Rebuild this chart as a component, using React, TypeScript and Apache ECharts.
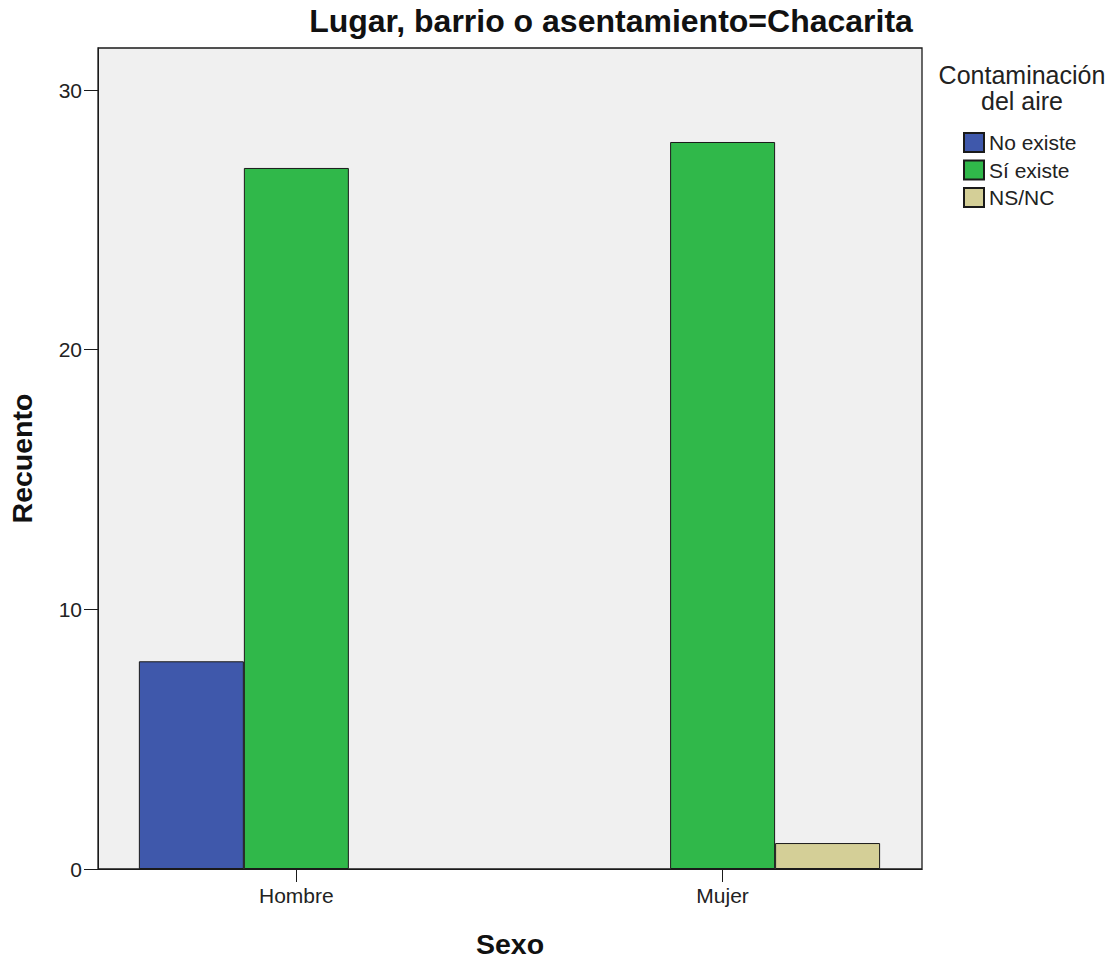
import React, { useEffect, useRef } from "react";
import * as echarts from "echarts";

const titleText = "Lugar, barrio o asentamiento=Chacarita";
const legendTitle = "Contaminación\ndel aire";
const categories = ["Hombre", "Mujer"];
const seriesNames = ["No existe", "Sí existe", "NS/NC"];
const noExiste: (number | null)[] = [8, null];
const siExiste: (number | null)[] = [27, 28];
const nsnc: (number | null)[] = [null, 1];
const seriesColors = ["#3f58ab", "#30b84a", "#d4cf97"];
const yTicks = [0, 10, 20, 30];
const yMax = 31.62;
const xMin = -0.4654;
const xMax = 1.4678;

const FONT = "'Liberation Sans', Arial, sans-serif";

function toPairs(vals: (number | null)[]) {
  const out: number[][] = [];
  vals.forEach((v, i) => {
    if (v !== null) out.push([i, v]);
  });
  return out;
}

export default function App() {
  const ref = useRef<HTMLDivElement>(null);
  useEffect(() => {
    if (!ref.current) return;
    const chart = echarts.init(ref.current, undefined, { renderer: "svg" });
    const values = [noExiste, siExiste, nsnc];
    chart.setOption({
      animation: false,
      backgroundColor: "#ffffff",
      textStyle: { fontFamily: FONT },
      grid: {
        left: 98,
        top: 48,
        width: 824,
        height: 821,
        show: true,
        backgroundColor: "#f0f0f0",
        borderColor: "#1a1a1a",
        borderWidth: 1.3,
        containLabel: false,
        outerBoundsMode: "none",
      },
      graphic: [
        {
          type: "text",
          style: {
            x: 611,
            y: 5,
            text: titleText,
            textAlign: "center",
            textVerticalAlign: "top",
            font: `bold 32px ${FONT}`,
            fill: "#111",
          },
        },
        {
          type: "text",
          style: {
            x: 1022,
            y: 62,
            text: legendTitle,
            textAlign: "center",
            textVerticalAlign: "top",
            font: `25px ${FONT}`,
            lineHeight: 26,
            fill: "#222",
          },
        },
      ],
      legend: {
        orient: "vertical",
        left: 963,
        top: 132,
        itemWidth: 20,
        itemHeight: 19,
        itemGap: 6.5,
        icon: "rect",
        padding: 0,
        data: seriesNames,
        textStyle: { fontSize: 21, color: "#222", fontFamily: FONT },
      },
      xAxis: {
        type: "value",
        min: xMin,
        max: xMax,
        name: "Sexo",
        nameLocation: "middle",
        nameGap: 60,
        nameTextStyle: { fontSize: 28.5, fontWeight: "bold", color: "#111", fontFamily: FONT },
        axisLine: { show: true, onZero: false, lineStyle: { color: "#1a1a1a" } },
        axisTick: { show: true, length: 13, lineStyle: { color: "#1a1a1a" }, customValues: [0, 1] },
        axisLabel: {
          customValues: [0, 1],
          formatter: (v: number) => categories[Math.round(v)] ?? "",
          fontSize: 21,
          color: "#222",
          margin: 16,
          fontFamily: FONT,
        },
        splitLine: { show: false },
      },
      yAxis: {
        type: "value",
        min: 0,
        max: yMax,
        name: "Recuento",
        nameLocation: "middle",
        nameRotate: 90,
        nameGap: 62,
        nameTextStyle: { fontSize: 28.5, fontWeight: "bold", color: "#111", fontFamily: FONT },
        axisLine: { show: true, onZero: false, lineStyle: { color: "#1a1a1a" } },
        axisTick: { show: true, length: 14, lineStyle: { color: "#1a1a1a" }, customValues: yTicks },
        axisLabel: {
          customValues: yTicks,
          fontSize: 21,
          color: "#222",
          margin: 16,
          fontFamily: FONT,
        },
        splitLine: { show: false },
      },
      series: seriesNames.map((name, i) => ({
        name,
        type: "bar",
        barWidth: 105,
        barGap: "0%",
        data: toPairs(values[i]),
        itemStyle: { color: seriesColors[i], borderColor: "#1a1a1a", borderWidth: 1 },
      })),
    });
    return () => chart.dispose();
  }, []);
  return (
    <div
      ref={ref}
      style={{ position: "fixed", left: 0, top: 0, width: 1118, height: 960 }}
    />
  );
}
